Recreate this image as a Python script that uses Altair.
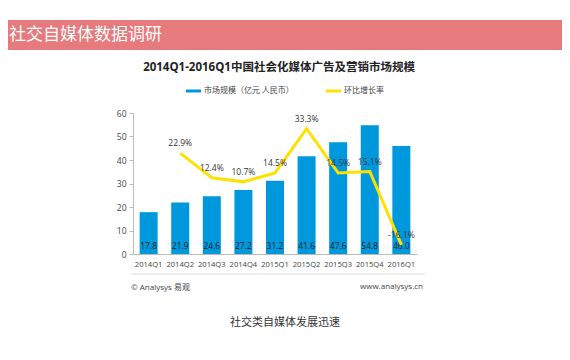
import altair as alt
import pandas as pd

quarters = ["2014Q1", "2014Q2", "2014Q3", "2014Q4", "2015Q1", "2015Q2", "2015Q3", "2015Q4", "2016Q1"]
market = [17.8, 21.9, 24.6, 27.2, 31.2, 41.6, 47.6, 54.8, 46.0]
growth_q = ["2014Q2", "2014Q3", "2014Q4", "2015Q1", "2015Q2", "2015Q3", "2015Q4", "2016Q1"]
growth = [22.9, 12.4, 10.7, 14.5, 33.3, 14.5, 15.1, -16.1]

FONT = "Noto Sans CJK SC"
NUM = "'Open Sans', 'Noto Sans CJK SC'"
W, H = 284, 141

bars_df = pd.DataFrame({"q": quarters, "v": market, "lab": [f"{v:.1f}" for v in market]})
line_df = pd.DataFrame({"q": growth_q, "g": growth, "lab": [f"{v:.1f}%" for v in growth]})

xenc = alt.X("q:N", sort=quarters, title=None,
             scale=alt.Scale(paddingInner=0.43, paddingOuter=0.21),
             axis=alt.Axis(labelAngle=0, ticks=False, labelPadding=6, labelFontSize=7.6,
                           labelColor="#444", domainColor="#bbb", labelFont=NUM))

base_bar = alt.Chart(bars_df)
bars = base_bar.mark_bar(color="#0098DD").encode(
    x=xenc,
    y=alt.Y("v:Q", title=None, scale=alt.Scale(domain=[0, 60]),
            axis=alt.Axis(values=[0, 10, 20, 30, 40, 50, 60], grid=False, tickSize=4,
                          tickColor="#bbb", domainColor="#bbb", labelFontSize=8.5,
                          labelColor="#444", labelPadding=3, labelFont=NUM)),
)
bar_text = base_bar.mark_text(fontSize=8.5, color="#222", font=NUM, baseline="middle").encode(
    x=alt.X("q:N", sort=quarters), y=alt.value(133), text="lab:N"
)
left = alt.layer(bars, bar_text)

base_line = alt.Chart(line_df)
yg = alt.Y("g:Q", title=None, scale=alt.Scale(domain=[-20, 40]),
           axis=alt.Axis(orient="right", values=[-20, -10, 0, 10, 20, 30, 40], grid=False,
                         tickSize=4, tickColor="#bbb", domainColor="#bbb", labelFontSize=8.5,
                         labelColor="#444", labelPadding=2, labelFont=NUM,
                         labelExpr="datum.value + '%'"))
line = base_line.mark_line(color="#FFE100", strokeWidth=3).encode(
    x=alt.X("q:N", sort=quarters), y=yg
)
line_text = base_line.mark_text(fontSize=8.5, color="#333", font=NUM, dy=-10).encode(
    x=alt.X("q:N", sort=quarters), y=alt.Y("g:Q", scale=alt.Scale(domain=[-20, 40]), axis=None), text="lab:N"
)
right = alt.layer(line, line_text)

one = pd.DataFrame({"a": [0]})


def txt(s, x, y, size, color, align="left", weight="normal", font=FONT):
    return alt.Chart(pd.DataFrame({"t": [s]})).mark_text(
        fontSize=size, color=color, align=align, baseline="middle", font=font, fontWeight=weight
    ).encode(x=alt.value(x), y=alt.value(y), text="t:N")


banner = alt.Chart(one).mark_rect(color="#E67A7C", clip=False).encode(
    x=alt.value(-125), x2=alt.value(429), y=alt.value(-93), y2=alt.value(-63)
)
banner_text = txt("社交自媒体数据调研", -124, -78, 17, "#ffffff")
title = txt("2014Q1-2016Q1中国社会化媒体广告及营销市场规模", 146, -45, 11.5, "#222", "center", "bold", NUM)
leg1 = alt.Chart(one).mark_rule(color="#0098DD", strokeWidth=3).encode(
    x=alt.value(53), x2=alt.value(68), y=alt.value(-22)
)
leg1t = txt("市场规模（亿元 人民币）", 71, -22, 8, "#444")
leg2 = alt.Chart(one).mark_rule(color="#FFE100", strokeWidth=3).encode(
    x=alt.value(193), x2=alt.value(208), y=alt.value(-22)
)
leg2t = txt("环比增长率", 211, -22, 8, "#444")
foot_line = alt.Chart(one).mark_rule(color="#ddd", strokeWidth=1).encode(
    x=alt.value(-2), x2=alt.value(292), y=alt.value(161)
)
foot1 = txt("© Analysys 易观", -2, 175, 8, "#444", font=NUM)
foot2 = txt("www.analysys.cn", 290, 174, 8, "#444", "right", font=NUM)
caption = txt("社交类自媒体发展迅速", 152, 210, 11, "#333", "center")

chart = alt.layer(
    left, right,
    banner, banner_text, title, leg1, leg1t, leg2, leg2t, foot_line, foot1, foot2, caption
).resolve_scale(y="independent").properties(
    width=W, height=H,
    autosize=alt.AutoSizeParams(type="none"),
    padding={"left": 125, "top": 105, "right": 145, "bottom": 98},
).configure_view(stroke=None)

chart.save("out.html", embed_options={"renderer": "svg", "actions": False})
